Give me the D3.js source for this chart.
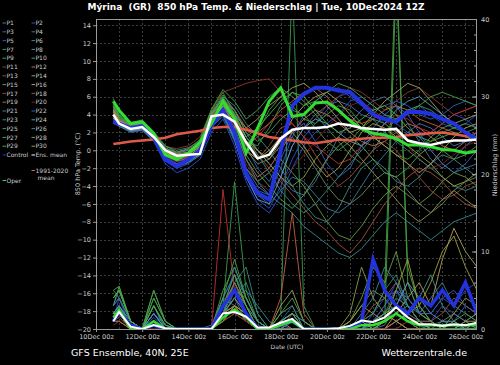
<!DOCTYPE html>
<html>
<head>
<meta charset="utf-8">
<script src="https://cdn.jsdelivr.net/npm/d3@7"></script>
<style>
  body { margin: 0; background: #000; }
  svg { display: block; font-family: "DejaVu Sans", sans-serif; }
</style>
</head>
<body>
<svg id="chart" width="500" height="365"></svg>
<script>
// time steps in days after 10Dec 00z (10Dec 18z, then every 12h up to 26Dec 12z)
const days = [0.75].concat(d3.range(1, 16.51, 0.5));
const dateLabels = ["10Dec 00z", "12Dec 00z", "14Dec 00z", "16Dec 00z", "18Dec 00z",
                    "20Dec 00z", "22Dec 00z", "24Dec 00z", "26Dec 00z"];
const tempTicks = d3.range(-20, 15, 2);
const precipTicks = [0, 10, 20, 30, 40];

// 850 hPa temperature (°C), ensemble members
const p1  = [3.5,3.0,2.3,2.5,1.2,-0.8,-1.5,-1.0,-0.2,3.0,4.5,2.0,-2.0,-4.0,-5.0,-3.0,0.5,2.5,4.0,5.0,5.5,5.0,4.0,3.5,2.0,1.0,2.0,3.0,2.5,1.5,0.5,1.0,2.0];
const p2  = [4.2,3.2,2.6,2.8,1.6,-1.2,-2.0,-1.5,-0.5,2.5,4.2,1.5,-3.0,-5.5,-6.5,-4.0,-1.0,1.5,3.0,4.5,6.0,6.5,5.5,4.0,3.0,3.5,4.5,5.0,4.0,3.0,2.5,3.0,4.0];
const p3  = [3.8,2.8,2.2,2.4,1.3,-0.5,-1.0,-0.8,0.2,3.5,5.0,3.5,0.5,-2.0,-3.5,-1.0,2.0,3.0,1.0,-1.5,-3.0,-2.0,0.5,2.5,4.0,5.0,4.0,2.0,0.0,-1.5,-2.5,-1.5,0.0];
const p4  = [4.5,3.3,2.7,2.9,1.7,0.2,-0.3,0.0,0.5,4.0,5.5,4.5,2.0,0.0,-1.5,-3.0,-4.5,-5.0,-3.5,-1.0,1.5,3.0,4.5,5.5,6.0,5.0,3.0,1.0,-1.0,-2.0,-1.0,0.5,1.5];
const p5  = [3.0,2.7,2.0,2.2,1.0,-1.5,-2.5,-2.0,-1.0,2.0,3.5,0.5,-3.5,-6.0,-7.0,-5.0,-2.0,0.5,2.0,3.0,4.0,5.5,6.0,5.0,4.0,3.0,2.0,1.5,2.0,3.0,4.0,3.5,2.5];
const p6  = [4.8,3.5,2.8,3.0,1.8,0.5,0.0,0.3,1.0,4.2,6.0,5.0,3.0,1.5,0.0,-2.0,-4.0,-6.0,-7.5,-8.0,-6.5,-4.0,-2.0,-1.0,-2.0,-3.5,-4.0,-3.0,-1.5,-0.5,-1.0,-2.0,-3.0];
const p7  = [5.5,4.0,3.0,3.3,2.0,0.3,-0.5,-0.3,0.8,4.5,6.5,4.0,1.0,0.5,2.5,5.0,6.5,5.5,4.0,2.5,1.0,-0.5,-1.5,0.0,2.0,3.5,4.5,5.0,4.5,3.5,2.5,2.0,2.5];
const p8  = [4.0,3.1,2.4,2.6,1.4,-0.2,-0.8,-0.6,0.0,3.6,4.8,3.0,0.0,-1.5,-1.0,0.5,1.5,0.0,-2.0,-4.0,-5.5,-6.0,-5.0,-3.5,-2.5,-3.0,-4.5,-6.0,-7.0,-6.0,-4.5,-3.5,-3.0];
const p9  = [5.0,3.8,2.9,3.1,1.9,0.0,-0.7,-0.4,0.6,4.0,6.0,3.5,0.5,2.0,4.5,6.0,5.0,3.5,3.0,4.0,5.0,4.5,3.0,1.5,0.5,-0.5,-1.0,0.0,1.5,2.5,3.0,2.0,1.0];
const p10 = [4.5,3.5,2.7,2.9,1.7,-0.3,-0.9,-0.7,0.3,3.8,5.2,3.0,-0.5,-2.5,-4.0,-5.5,-6.5,-5.0,-3.0,-1.0,0.5,1.5,0.5,-1.0,-2.5,-3.0,-2.0,-0.5,0.5,0.0,-1.0,-0.5,0.5];
const p11 = [4.2,3.2,2.5,2.7,1.6,0.4,0.2,0.5,1.5,4.5,6.5,7.0,7.5,7.8,8.0,6.5,4.0,2.5,3.5,5.0,6.0,7.0,6.5,5.5,4.5,5.5,6.5,7.0,6.0,5.0,4.0,4.5,5.0];
const p12 = [3.6,2.9,2.2,2.4,1.2,-0.6,-1.2,-0.9,-0.1,3.2,4.6,2.5,-1.0,-3.0,-2.0,0.0,2.0,3.5,4.5,4.0,3.0,2.0,1.0,0.5,1.0,2.0,3.0,2.5,1.5,0.5,0.0,1.0,1.5];
const p13 = [4.0,3.0,2.4,2.5,1.4,-0.4,-1.0,-0.7,0.1,3.4,4.4,2.8,0.0,-1.0,0.5,2.5,3.0,1.5,-0.5,-2.5,-4.0,-3.0,-1.5,0.0,1.0,0.0,-1.5,-3.0,-4.5,-5.5,-5.0,-4.0,-3.5];
const p14 = [4.6,3.4,2.6,2.8,1.6,0.1,-0.4,-0.2,0.6,3.9,5.4,4.0,2.5,3.5,5.0,6.0,7.0,7.5,6.5,5.0,3.5,2.0,2.5,4.0,5.5,6.5,7.5,7.0,5.5,4.0,3.0,3.5,4.0];
const p15 = [3.3,2.7,2.1,2.3,1.1,-0.9,-1.6,-1.2,-0.4,2.8,4.0,1.5,-2.0,-3.5,-2.5,-1.0,-2.5,-4.0,-6.0,-8.0,-9.5,-10.0,-8.5,-6.5,-5.0,-4.0,-5.0,-6.0,-5.0,-3.5,-2.5,-3.0,-4.0];
const p16 = [4.4,3.3,2.5,2.7,1.5,-0.1,-0.6,-0.4,0.4,3.7,5.0,3.8,1.5,0.0,-1.0,1.0,3.5,5.0,6.0,6.5,5.5,4.0,2.5,1.5,0.5,-0.5,-1.5,-2.5,-1.5,0.0,1.5,2.5,3.0];
const p17 = [3.9,3.0,2.3,2.5,1.3,-0.5,-1.1,-0.8,0.0,3.3,4.7,3.2,0.5,1.5,3.0,4.0,3.0,1.5,0.5,-0.5,-1.5,-1.0,0.5,1.5,3.0,4.0,3.5,2.5,2.0,3.0,4.0,4.5,5.0];
const p18 = [4.3,3.2,2.5,2.7,1.5,0.0,-0.5,-0.3,0.5,3.8,5.2,3.9,1.0,-0.5,-2.0,-3.5,-5.0,-6.5,-8.0,-9.0,-10.5,-11.5,-10.0,-8.0,-6.0,-4.5,-3.0,-2.0,-2.5,-3.5,-5.0,-6.0,-6.5];
const p19 = [4.7,3.5,2.7,2.9,1.7,0.2,-0.2,0.1,0.9,4.1,5.8,4.5,2.5,2.0,3.0,4.5,5.5,6.5,7.0,6.0,4.5,3.5,3.0,3.5,4.5,5.0,4.5,3.5,3.0,2.5,2.0,1.5,2.0];
const p20 = [3.7,2.9,2.2,2.4,1.2,-0.7,-1.3,-1.0,-0.2,3.1,4.3,2.2,-1.5,-3.5,-4.5,-3.5,-2.0,-0.5,1.0,2.5,4.0,5.0,5.5,4.5,3.5,2.0,0.5,-1.0,-2.0,-1.5,-0.5,0.5,1.0];
const p21 = [3.4,2.8,2.1,2.3,1.1,-1.0,-1.8,-1.4,-0.6,2.6,3.8,1.0,-2.5,-5.0,-6.0,-4.5,-3.0,-3.5,-5.0,-6.5,-7.0,-6.0,-4.0,-2.0,-0.5,1.0,2.0,1.5,0.0,-1.5,-2.5,-2.0,-1.5];
const p22 = [4.1,3.1,2.4,2.6,1.5,-0.8,-1.5,-1.1,-0.3,3.0,4.4,1.8,-2.5,-4.5,-5.0,-2.0,1.5,4.0,5.5,6.5,7.0,6.0,5.0,4.5,5.0,5.5,5.0,4.0,3.5,4.0,5.0,5.5,5.0];
const p23 = [4.9,3.6,2.8,3.0,1.8,0.3,-0.3,0.0,0.8,4.2,5.8,4.2,1.5,-0.5,-2.5,-4.5,-6.0,-7.0,-6.0,-4.5,-3.0,-1.5,0.0,1.5,2.0,1.0,0.0,-1.0,-2.0,-3.0,-4.0,-4.5,-4.0];
const p24 = [3.6,2.9,2.2,2.4,1.3,-0.9,-1.7,-1.3,-0.4,2.9,4.1,1.2,-3.0,-5.5,-6.0,-3.0,0.5,2.5,3.5,3.0,2.0,1.0,0.5,1.5,3.0,4.5,5.5,6.0,5.0,4.0,3.0,2.0,1.5];
const p25 = [5.2,3.9,2.9,3.1,1.9,0.1,-0.6,-0.3,0.7,4.3,6.2,4.5,2.0,1.0,2.0,3.5,4.5,4.0,2.5,1.0,0.0,1.0,2.5,3.5,3.0,2.0,1.0,0.5,1.0,2.0,2.5,3.0,2.5];
const p26 = [4.0,3.0,2.4,2.6,1.4,-0.6,-1.2,-0.9,0.0,3.5,4.8,2.5,-1.0,-3.5,-5.0,-6.0,-7.0,-8.5,-9.5,-10.5,-11.5,-12.0,-11.0,-9.5,-8.0,-7.0,-8.0,-9.0,-10.0,-9.0,-8.0,-7.5,-7.0];
const p27 = [5.8,4.2,3.1,3.4,2.1,0.5,-0.2,0.2,1.2,4.6,6.8,5.5,3.5,4.5,6.0,7.0,6.0,5.0,5.5,6.5,7.5,7.0,6.0,5.0,4.0,3.5,4.0,5.0,6.0,6.5,6.0,5.5,5.0];
const p28 = [4.4,3.3,2.6,2.8,1.6,-0.2,-0.7,-0.5,0.4,3.6,5.0,3.5,1.0,0.0,-1.5,-3.0,-4.0,-3.0,-1.0,0.5,1.5,0.5,-1.0,-2.5,-4.0,-5.5,-7.0,-8.0,-7.0,-5.5,-4.5,-5.5,-6.5];
const p29 = [5.0,3.7,2.8,3.0,1.8,0.0,-0.6,-0.4,0.5,4.0,5.8,4.0,1.5,2.5,4.0,5.5,6.5,6.0,4.5,3.0,2.0,2.5,3.5,4.5,5.0,4.0,2.5,1.5,1.0,1.5,2.0,1.5,1.0];
const p30 = [4.3,3.2,2.5,2.7,1.5,-0.3,-0.8,-0.6,0.2,3.5,4.9,3.0,0.0,-1.0,0.0,1.5,2.0,0.5,-1.5,-3.0,-2.0,0.0,2.0,3.0,2.5,1.5,0.5,-0.5,-1.5,-3.0,-4.0,-3.5,-2.5];
const controlTemp = [3.2,3.0,2.5,2.7,1.5,-1.0,-1.8,-1.0,0.0,2.8,4.5,2.0,-2.6,-4.8,-5.5,0.0,5.0,6.3,7.0,7.0,6.7,6.5,5.3,4.0,3.5,3.2,4.3,4.3,4.1,3.5,3.0,2.0,1.2];
const operTemp    = [5.5,4.5,3.0,3.2,1.9,-0.5,-1.0,-0.3,0.9,3.0,5.5,3.5,-0.3,2.5,5.5,7.0,3.8,4.0,5.3,5.4,4.5,3.3,2.4,1.9,1.7,1.3,0.6,0.6,0.4,0.1,0.0,-0.3,-0.1];
const meanTemp    = [4.0,3.0,2.4,2.6,1.5,0.0,-0.6,-0.5,-0.4,3.8,4.0,3.2,0.9,-0.9,-0.5,1.3,2.3,2.5,2.5,2.6,3.0,2.8,2.5,2.4,2.3,2.4,1.1,0.8,0.6,0.9,1.1,1.1,1.2];
const climTemp    = [0.7,0.8,1.0,1.1,1.2,1.4,1.8,2.0,2.2,2.5,2.6,2.6,2.3,1.9,1.5,1.3,1.1,0.9,0.8,1.0,1.2,1.1,1.3,1.4,1.4,1.5,1.7,1.8,1.9,2.0,1.8,1.6,1.4];

// precipitation (mm), ensemble members
const r1  = [2,3,0.5,0,1,0,0,0,0,0,2,4,1,0,0,0.5,1,0,0,0,0,0,0.5,1,2,3,1,0,0.5,1,0.5,0,1];
const r2  = [1,4,0,0,2,0.5,0,0,0,0,3,6,2,0.5,0,1,2,0,0,0,0,0,0,2,4,5,2,1,1,3,2,1,2];
const r3  = [2,2,0,0,0.5,0,0,0,0,0,1,5,3,0,0,0.5,0,0,0,0,0,0.5,1,0,1,2,1,0,0,0,1,3,2];
const r4  = [1,3,0.5,0,1,0,0,0,0,0.5,4,3,1,0,0,0,1,0,0,0,0,0,0,0,0.5,3,6,2,1,0,0,0,0];
const r5  = [3,5,1,0,1.5,0,0,0,0,0,2,8,4,1,0,1,3,0,0,0,0,0,0,1,3,6,4,2,2,4,3,5,6];
const r6  = [1,2,0,0,3,0.5,0,0,0,0,2,4,6,2,0,0,0,0,0,0,0,0,0,0,0,1,2,4,7,3,1,0,0];
const r7  = [4,5,1,0,4,1,0,0,0,0,3,19,5,1,0,2,45,3,0,0,0,0,0,1,2,4,3,1,0,0,0,1,0];
const r8  = [1,1,0,0,0.5,0,0,0,0,0,1,3,2,0,0,0,0,0,0,0,0,1,3,5,4,2,1,0,0,1,2,1,0];
const r9  = [5,4,1,0,5,1,0,0,0,0,4,7,3,0,0,1,2,0,0,0,0,0,1,2,5,48,6,2,1,0,0,0,0];
const r10 = [3,5.5,1,0,3,0,0,0,0,0,2,5,4,1,0,0,1,0,0,0,0,0,0,0,1,2,3,1,0,0,1,0,0];
const r11 = [0.5,1,0,0,0,0,0,0,0,0,1,3,2,0,0,0,0,0,0,0,0,0,0,0,0,0,1,0,0,0,0,0,0];
const r12 = [1,2,0,0,1,0,0,0,0,0,2,3,1,0,0,0,0,0,0,0,0,0,0,1,2,1,0,0,0,0,0,0,1];
const r13 = [1,1.5,0,0,0.5,0,0,0,0,0,3,5,2,0,0,0,2,0,0,0,0,0,0,0,1,3,2,1,0,0,0,0,0];
const r14 = [2,2,0,0,1,0,0,0,0,0,1,2,1,0,0,3,5,1,0,0,0,0,1,0,0,1,2,3,1,0,0,1,1];
const r15 = [3,4,1,0,2,0,0,0,0,0,2,6,3,1,0,1,2,0,0,0,0,1,4,8,6,10,4,2,1,0,0,1,2];
const r16 = [1,2,0,0,1,0,0,0,0,0,2,4,2,0,0,0,1,0,0,0,0,0,0,0,0,2,4,6,3,9,13,10,8];
const r17 = [1,2,0,0,0.5,0,0,0,0,0,18,5,2,0,0,0,1,0,0,0,0,0,0,0,1,2,1,0,0,0,0,0,0];
const r18 = [2,2,0,0,1,0,0,0,0,0,2,3,1,0,0,0,0,0,0,0,0,0,1,3,4,6,3,1,1,2,4,3,2];
const r19 = [1,1,0,0,0.5,0,0,0,0,0,3,6,3,0,0,4,15,2,0,0,0,0,0,0,0,1,0,0,0,0,0,0,0];
const r20 = [1,2,0,0,0,0,0,0,0,0,1,2,1,0,0,0,0,0,0,0,0,0,0,0,0,0,1,1,0,0,0,0,0];
const r21 = [2,3,0.5,0,2,0,0,0,0,0,3,5,3,1,0,0,1,0,0,0,0,0,0,0.5,2,5,3,2,4,6,3,2,1];
const r22 = [3,4,1,0,2,0.5,0,0,0,0,4,7,4,1,0,1,2,0,0,0,0,0,0,1,3,5,4,2,2,4,5,3,2];
const r23 = [2,3,0.5,0,3,0,0,0,0,0,2,6,8,2,0,0,1,0,0,0,0,0,1,2,5,7,3,1,0,0,0,0,0];
const r24 = [2,3,1,0,2,0,0,0,0,0,3,5,2,0,0,1,2,1,0,0,0,0,0,0,1,3,6,4,2,1,1,0,0];
const r25 = [4,5,1,0,4,1,0,0,0,0,5,8,4,1,0,2,3,0,0,0,0,0,0,1,2,3,1,0,0,0,0,0,1];
const r26 = [2,2,0,0,1,0,0,0,0,0,2,4,5,3,1,0,0,0,0,0,0,0,2,4,8,6,3,1,0,0,0,0,0];
const r27 = [5,5.5,1,0,5,1,0,0,0,0,4,9,4,1,0,2,4,1,0,0,0,0,0,0,1,45,8,3,1,0,1,2,1];
const r28 = [2,2,0,0,1,0,0,0,0,0,1,3,2,0,0,0,0,0,0,0,0,2,8,4,2,1,0,0,0,0,2,4,3];
const r29 = [4,5,1,0,3,0.5,0,0,0,0,3,7,3,0,0,1,2,0,0,0,0,0,0,0,1,2,1,1,0,0,0,0,0];
const r30 = [2,2,0,0,1,0,0,0,0,0,2,3,2,0,0,1,0,0,0,0,0,1,3,2,1,5,9,3,6,10,12,8,5];
const controlPrecip = [1,2.2,0.5,0,0.5,0,0,0,0,0,3,5,2,0,0,0.5,1,0,0,0,0,0,1,9,5,3,2,4,3,5,3,6,2];
const operPrecip    = [1.5,2.5,0,0,1,0,0,0,0,0,1.5,2.5,1.5,0,0,0.5,1,0,0,0,0,0,0.5,0.5,1,2,1,0.5,0.5,0.5,0.5,0.5,0.5];
const meanPrecip    = [1.0,2.2,0.3,0.0,0.5,0.1,0,0,0,0,2.0,2.2,1.6,0.2,0.2,0.8,1.3,0,0,0,0.1,0.4,1.1,0.9,1.5,2.8,1.5,0.6,0.6,0.4,0.6,0.5,0.8];

const memberTemps  = [p1,p2,p3,p4,p5,p6,p7,p8,p9,p10,p11,p12,p13,p14,p15,p16,p17,p18,p19,p20,p21,p22,p23,p24,p25,p26,p27,p28,p29,p30];
const memberPrecip = [r1,r2,r3,r4,r5,r6,r7,r8,r9,r10,r11,r12,r13,r14,r15,r16,r17,r18,r19,r20,r21,r22,r23,r24,r25,r26,r27,r28,r29,r30];
const memberColors = ["#4a6fb0","#3050c0","#3a5fc0","#5070a0","#2a4fd0","#3a8a8a","#3a9a50","#6a8a6a","#40a040","#50a050",
                      "#8a3a2a","#c07060","#9a4a3a","#a0a060","#6a9a40","#b0a060","#c03030","#a05040","#c06040","#802020",
                      "#3a7a9a","#3060c0","#3a8a7a","#5a9ac0","#4a9a4a","#3a8a8a","#4aa04a","#8a9a4a","#50b040","#a0a040"];
const controlColor = "#2233dd", operColor = "#33dd33", meanColor = "#ffffff", climColor = "#e05a4a";

const svg = d3.select("#chart");
svg.append("rect").attr("width", 500).attr("height", 365).attr("fill", "#000");

const plotLeft = 96, plotRight = 477, plotTop = 19, plotBottom = 329;
const x = d3.scaleLinear().domain([0, 16.5]).range([plotLeft, plotRight]);
const yT = d3.scaleLinear().domain([-20, 14.7]).range([plotBottom, plotTop]);
const yP = d3.scaleLinear().domain([0, 40]).range([plotBottom, plotTop]);

// grid
const grid = svg.append("g").attr("stroke", "#3c3c3c").attr("stroke-dasharray", "2,2").attr("stroke-width", 1);
tempTicks.filter(t => t > -20).forEach(t => {
  grid.append("line").attr("x1", plotLeft).attr("x2", plotRight)
      .attr("y1", Math.round(yT(t)) + 0.5).attr("y2", Math.round(yT(t)) + 0.5);
});
d3.range(1, 17).forEach(d => {
  grid.append("line").attr("y1", plotTop).attr("y2", plotBottom)
      .attr("x1", Math.round(x(d)) + 0.5).attr("x2", Math.round(x(d)) + 0.5);
});

svg.append("clipPath").attr("id", "plotclip")
   .append("rect").attr("x", plotLeft).attr("y", plotTop)
   .attr("width", plotRight - plotLeft).attr("height", plotBottom - plotTop);
const plot = svg.append("g").attr("clip-path", "url(#plotclip)");

const lineT = d3.line().x((d, i) => x(days[i])).y(d => yT(d));
const lineP = d3.line().x((d, i) => x(days[i])).y(d => yP(d));

// precipitation members
memberPrecip.forEach((s, i) => {
  plot.append("path").datum(s).attr("fill", "none")
      .attr("stroke", memberColors[i]).attr("stroke-width", 1).attr("opacity", 0.9)
      .attr("d", lineP);
});
plot.append("path").datum(controlPrecip).attr("fill", "none")
    .attr("stroke", controlColor).attr("stroke-width", 3.5).attr("d", lineP);
plot.append("path").datum(operPrecip).attr("fill", "none")
    .attr("stroke", operColor).attr("stroke-width", 2.5).attr("d", lineP);
plot.append("path").datum(meanPrecip).attr("fill", "none")
    .attr("stroke", meanColor).attr("stroke-width", 2).attr("d", lineP);

// temperature members
memberTemps.forEach((s, i) => {
  plot.append("path").datum(s).attr("fill", "none")
      .attr("stroke", memberColors[i]).attr("stroke-width", 1).attr("opacity", 0.9)
      .attr("d", lineT);
});
plot.append("path").datum(climTemp).attr("fill", "none")
    .attr("stroke", climColor).attr("stroke-width", 2.5).attr("d", lineT);
plot.append("path").datum(controlTemp).attr("fill", "none")
    .attr("stroke", controlColor).attr("stroke-width", 4).attr("d", lineT);
plot.append("path").datum(operTemp).attr("fill", "none")
    .attr("stroke", operColor).attr("stroke-width", 3).attr("d", lineT);
plot.append("path").datum(meanTemp).attr("fill", "none")
    .attr("stroke", meanColor).attr("stroke-width", 2.5).attr("d", lineT);

// frame
svg.append("rect").attr("x", plotLeft + 0.5).attr("y", plotTop + 0.5)
   .attr("width", plotRight - plotLeft - 1).attr("height", plotBottom - plotTop)
   .attr("fill", "none").attr("stroke", "#999");

// axes
const styleAxis = g => {
  g.select(".domain").remove();
  g.selectAll("line").attr("stroke", "#999");
  g.selectAll("text").attr("fill", "#ccc").style("font-size", "6.5px").style("font-family", "DejaVu Sans");
};
svg.append("g").attr("transform", `translate(${plotLeft},0)`)
   .call(d3.axisLeft(yT).tickValues(tempTicks).tickSize(3).tickPadding(2))
   .call(styleAxis);
svg.append("g").attr("transform", `translate(${plotRight},0)`)
   .call(d3.axisRight(yP).tickValues(d3.range(0, 41, 2)).tickSize(-3).tickFormat(""))
   .call(styleAxis);
svg.append("g").attr("transform", `translate(${plotRight},0)`)
   .call(d3.axisRight(yP).tickValues(precipTicks).tickSize(-5).tickPadding(4))
   .call(styleAxis);
svg.append("g").attr("transform", `translate(0,${plotBottom})`)
   .call(d3.axisBottom(x).tickValues(d3.range(0, 17, 2)).tickSize(3).tickPadding(2)
           .tickFormat((d, i) => dateLabels[i]))
   .call(styleAxis);

// axis titles
svg.append("text").attr("transform", "translate(80,164) rotate(-90)")
   .attr("text-anchor", "middle").attr("fill", "#ccc").style("font-size", "6.5px")
   .text("850 hPa Temp. (°C)");
svg.append("text").attr("transform", "translate(497,165) rotate(-90)")
   .attr("text-anchor", "middle").attr("fill", "#ccc").style("font-size", "6.5px")
   .text("Niederschlag (mm)");
svg.append("text").attr("x", 287).attr("y", 349)
   .attr("text-anchor", "middle").attr("fill", "#ccc").style("font-size", "6px")
   .text("Date (UTC)");

// title and footer
svg.append("text").attr("x", 256).attr("y", 10).attr("text-anchor", "middle")
   .attr("fill", "#fff").style("font-size", "9px").style("font-weight", "bold").style("white-space", "pre")
   .text("Mýrina  (GR)  850 hPa Temp. & Niederschlag | Tue, 10Dec2024 12Z");
svg.append("text").attr("x", 71).attr("y", 356).attr("fill", "#fff").style("font-size", "9.5px")
   .text("GFS Ensemble, 40N, 25E");
svg.append("text").attr("x", 467).attr("y", 356).attr("text-anchor", "end").attr("fill", "#fff").style("font-size", "9.5px")
   .text("Wetterzentrale.de");

// legend
const legend = svg.append("g").style("font-size", "6px");
const legendItems = memberColors.map((c, i) => ({
  label: "P" + (i + 1), color: c, col: i % 2, row: Math.floor(i / 2)
}));
legendItems.push({label: "Control", color: controlColor, col: 0, row: 15});
legendItems.push({label: "Ens. mean", color: meanColor, col: 1, row: 15});
legendItems.forEach(d => {
  const lx = d.col === 0 ? 2.5 : 31.5, ly = 23 + d.row * 8.8;
  legend.append("line").attr("x1", lx).attr("x2", lx + 3.5).attr("y1", ly).attr("y2", ly)
        .attr("stroke", d.color).attr("stroke-width", 1);
  legend.append("text").attr("x", lx + 4).attr("y", ly + 2.1).attr("fill", "#ccc").text(d.label);
});
legend.append("line").attr("x1", 31.5).attr("x2", 35).attr("y1", 170.5).attr("y2", 170.5)
      .attr("stroke", climColor).attr("stroke-width", 1);
legend.append("text").attr("x", 35.5).attr("y", 172.6).attr("fill", "#ccc").text("1991-2020");
legend.append("text").attr("x", 37.5).attr("y", 179.8).attr("fill", "#ccc").text("mean");
legend.append("line").attr("x1", 2.5).attr("x2", 6).attr("y1", 180.5).attr("y2", 180.5)
      .attr("stroke", operColor).attr("stroke-width", 1);
legend.append("text").attr("x", 6.5).attr("y", 182.6).attr("fill", "#ccc").text("Oper");
</script>
</body>
</html>
